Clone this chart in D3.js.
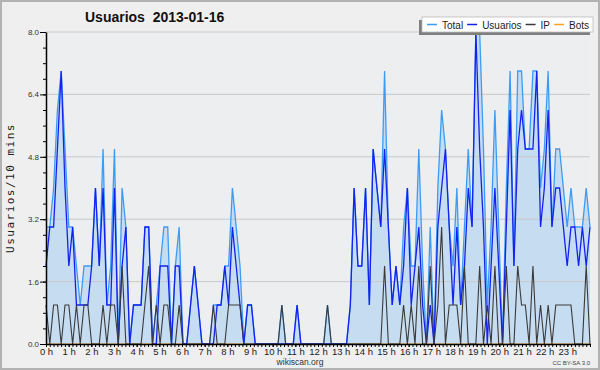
<!DOCTYPE html>
<html>
<head>
<meta charset="utf-8">
<script src="https://cdn.jsdelivr.net/npm/d3@7"></script>
<style>
  body { margin: 0; background: #ffffff; }
  svg { display: block; }
</style>
</head>
<body>
<div id="chart"></div>
<script>
// Valeurs par tranche de 10 minutes (144 points sur la journee)
const total = [
    3,3,4,6,7,5,3,3,2,1,2,2,
    2,4,2,5,1,2,5,0,4,3,0,1,
    1,1,3,3,0,1,2,3,3,0,2,3,
    0,0,1,2,1,0,0,0,1,1,1,2,
    2,4,3,2,0,1,1,0,0,0,0,0,
    0,0,1,0,0,0,1,0,0,0,0,0,
    0,0,1,0,0,0,0,0,1,4,2,2,
    4,1,5,4,3,7,3,1,2,1,3,4,
    2,2,5,2,0,3,0,4,6,5,3,2,
    4,1,3,5,3,8,8,5,1,3,6,3,
    0,4,7,2,7,7,5,5,7,7,4,5,
    7,3,5,5,4,3,4,3,3,3,4,3
];
const usuarios = [
    2,3,3,5,7,4,2,3,1,1,1,1,
    2,4,2,4,1,1,4,0,2,3,0,1,
    1,1,3,3,0,0,2,2,2,0,2,2,
    0,0,1,2,1,0,0,0,0,1,1,2,
    1,3,2,1,0,1,1,0,0,0,0,0,
    0,0,0,0,0,0,1,0,0,0,0,0,
    0,0,0,0,0,0,0,0,1,4,2,2,
    4,1,5,4,3,5,3,1,2,1,2,4,
    1,2,3,1,0,1,0,3,4,5,3,1,
    3,1,2,4,3,8,5,3,0,2,4,2,
    0,3,6,2,5,6,5,5,5,7,3,4,
    6,3,4,4,3,2,3,3,2,3,2,3
];
const ip = [
    1,0,1,1,0,1,1,0,1,0,1,1,
    0,0,0,1,0,1,1,0,2,0,0,0,
    0,0,1,2,0,1,0,1,1,0,0,1,
    0,0,0,0,0,0,0,0,1,0,0,0,
    1,1,1,1,0,0,0,0,0,0,0,0,
    0,0,1,0,0,0,0,0,0,0,0,0,
    0,0,1,0,0,0,0,0,0,0,0,0,
    0,0,0,0,0,2,0,0,0,0,1,0,
    1,0,2,0,0,2,0,1,3,0,1,1,
    1,0,2,0,0,0,2,0,1,0,2,0,
    0,2,0,0,2,1,1,0,2,0,1,0,
    1,0,1,1,1,1,1,0,0,0,2,0
];
const bots = [
    0,0,0,0,0,0,0,0,0,0,0,0,
    0,0,0,0,0,0,0,0,0,0,0,0,
    0,0,0,0,0,0,0,0,0,0,0,0,
    0,0,0,0,0,0,0,0,0,0,0,0,
    0,0,0,0,0,0,0,0,0,0,0,0,
    0,0,0,0,0,0,0,0,0,0,0,0,
    0,0,0,0,0,0,0,0,0,0,0,0,
    0,0,0,0,0,0,0,0,0,0,0,0,
    0,0,0,0,0,0,0,0,0,0,0,0,
    0,0,0,0,0,0,0,0,0,0,0,0,
    0,0,0,0,0,0,0,0,0,0,0,0,
    0,0,0,0,0,0,0,0,0,0,0,0
];
const hourLabels = ["0 h","1 h","2 h","3 h","4 h","5 h","6 h","7 h","8 h","9 h","10 h","11 h",
    "12 h","13 h","14 h","15 h","16 h","17 h","18 h","19 h","20 h","21 h","22 h","23 h"];
const yTicks = [0, 1.6, 3.2, 4.8, 6.4, 8.0];
const seriesNames = ["Total", "Usuarios", "IP", "Bots"];

const W = 600, H = 370;
const margin = { top: 32, right: 10, bottom: 26, left: 46 };
const colors = { Total: "#3c9cf5", Usuarios: "#1422f0", IP: "#3a3a3a", Bots: "#ffa020" };

const svg = d3.select("#chart").append("svg")
    .attr("width", W)
    .attr("height", H)
    .style("font-family", "'Liberation Sans', Arial, sans-serif");

// fond + bordure
svg.append("rect")
    .attr("x", 1).attr("y", 1)
    .attr("width", W - 2).attr("height", H - 2)
    .attr("fill", "#efefef")
    .attr("stroke", "#b2b2b2")
    .attr("stroke-width", 2);

// echelles
const x = d3.scaleLinear().domain([0, total.length - 1]).range([margin.left, W - margin.right]);
const xh = d3.scaleLinear().domain([0, 24]).range([margin.left, W - margin.right]);
const y = d3.scaleLinear().domain([0, 8]).range([H - margin.bottom, margin.top]);

svg.append("rect")
    .attr("x", margin.left).attr("y", margin.top)
    .attr("width", W - margin.left - margin.right)
    .attr("height", H - margin.top - margin.bottom)
    .attr("fill", "#edeef0");

// aire du total
const area = d3.area()
    .x((d, i) => x(i))
    .y0(y(0))
    .y1(d => y(d));
svg.append("path")
    .datum(total)
    .attr("d", area)
    .attr("fill", "#c6dcf0");

// grille
svg.append("g")
    .selectAll("line")
    .data(yTicks.filter(t => t > 0))
    .enter()
    .append("line")
    .attr("x1", margin.left)
    .attr("x2", W - margin.right)
    .attr("y1", d => y(d))
    .attr("y2", d => y(d))
    .attr("stroke", "#c9c9c9")
    .attr("stroke-width", 1);

// lignes
const line = d3.line()
    .x((d, i) => x(i))
    .y(d => y(d));

const drawLine = (data, color, width) => {
    svg.append("path")
        .datum(data)
        .attr("d", line)
        .attr("fill", "none")
        .attr("stroke", color)
        .attr("stroke-width", width)
        .attr("stroke-linejoin", "miter");
};
drawLine(bots, colors.Bots, 1.2);
drawLine(total, colors.Total, 1.3);
drawLine(usuarios, colors.Usuarios, 1.3);
drawLine(ip, colors.IP, 1.1);

// axe Y
svg.append("g")
    .attr("transform", `translate(${margin.left},0)`)
    .call(d3.axisLeft(y).tickValues(d3.range(0, 8.01, 0.4)).tickSize(3).tickSizeOuter(0).tickFormat(""))
    .call(g => g.select(".domain").remove());
svg.append("g")
    .attr("transform", `translate(${margin.left},0)`)
    .call(d3.axisLeft(y).tickValues(yTicks).tickSize(6).tickSizeOuter(0).tickPadding(1).tickFormat(d3.format(".1f")))
    .call(g => g.selectAll("text").style("font-size", "8px").attr("fill", "#333"));

// axe X
svg.append("g")
    .attr("transform", `translate(0,${H - margin.bottom})`)
    .call(d3.axisBottom(xh).tickValues(d3.range(0, 24.01, 1 / 6)).tickSize(3).tickSizeOuter(0).tickFormat(""))
    .call(g => g.select(".domain").remove());
svg.append("g")
    .attr("transform", `translate(0,${H - margin.bottom})`)
    .call(d3.axisBottom(xh).tickValues(d3.range(0, 24)).tickSize(3).tickSizeOuter(0).tickPadding(1)
        .tickFormat(d => hourLabels[d]))
    .call(g => g.selectAll("text").style("font-size", "9.5px").attr("fill", "#222"));

svg.selectAll(".domain").attr("stroke", "#000").attr("stroke-width", 1.5);

// titre
svg.append("text")
    .attr("x", 85)
    .attr("y", 21.5)
    .attr("xml:space", "preserve")
    .style("white-space", "pre")
    .style("font-size", "14px")
    .style("font-weight", "bold")
    .attr("fill", "#111")
    .text("Usuarios  2013-01-16");

// titre axe Y
svg.append("text")
    .attr("transform", "translate(14,188) rotate(-90)")
    .attr("text-anchor", "middle")
    .style("font-family", "'DejaVu Sans Mono', monospace")
    .style("font-size", "11px")
    .style("letter-spacing", "1.5px")
    .attr("fill", "#222")
    .text("Usuarios/10 mins");

svg.append("text")
    .attr("x", 300).attr("y", 364.5)
    .attr("text-anchor", "middle")
    .style("font-size", "8.5px")
    .attr("fill", "#333")
    .text("wikiscan.org");

svg.append("text")
    .attr("x", 590).attr("y", 365)
    .attr("text-anchor", "end")
    .style("font-size", "6px")
    .attr("fill", "#444")
    .text("CC BY-SA 3.0");

// legende
const legend = svg.append("g");
legend.append("rect")
    .attr("x", 419).attr("y", 20)
    .attr("width", 171).attr("height", 15)
    .attr("fill", "#7f7f7f");
legend.append("rect")
    .attr("x", 422).attr("y", 17)
    .attr("width", 171).attr("height", 15)
    .attr("fill", "#ffffff")
    .attr("stroke", "#bbbbbb")
    .attr("stroke-width", 0.8);

let lx = 427;
seriesNames.forEach(name => {
    legend.append("line")
        .attr("x1", lx).attr("x2", lx + 10)
        .attr("y1", 24.5).attr("y2", 24.5)
        .attr("stroke", colors[name])
        .attr("stroke-width", 1.5);
    const t = legend.append("text")
        .attr("x", lx + 15)
        .attr("y", 28.5)
        .style("font-size", "10px")
        .attr("fill", "#222")
        .text(name);
    lx = lx + 15 + t.node().getComputedTextLength() + 4;
});
</script>
</body>
</html>
